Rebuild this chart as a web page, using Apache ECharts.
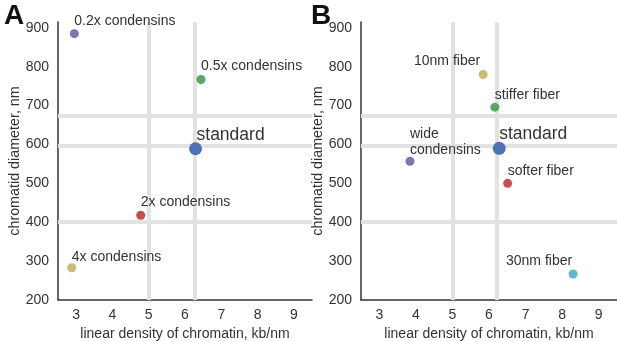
<!DOCTYPE html>
<html>
<head>
<meta charset="utf-8">
<script src="https://cdn.jsdelivr.net/npm/echarts@6/dist/echarts.min.js"></script>
<style>
  html, body { margin: 0; padding: 0; background: #fff; }
  #chart { width: 617px; height: 342px; }
</style>
</head>
<body>
<div id="chart"></div>
<script>
// panel A: condensin variants
var namesA = ["0.2x condensins", "0.5x condensins", "standard", "2x condensins", "4x condensins"];
var xA = [2.95, 6.44, 6.29, 4.78, 2.88];
var yA = [885, 767, 589, 418, 283];
var vlinesA = [5.0, 6.28];

// panel B: fiber variants
var namesB = ["10nm fiber", "stiffer fiber", "standard", "wide\ncondensins", "softer fiber", "30nm fiber"];
var xB = [5.84, 6.16, 6.28, 3.84, 6.51, 8.3];
var yB = [780, 696, 590, 557, 500, 267];
var vlinesB = [5.0, 6.2];

var hlines = [675, 597, 400];
var xTicks = [3, 4, 5, 6, 7, 8, 9];
var yTicks = [200, 300, 400, 500, 600, 700, 800, 900];

var colorsA = ["#8172b2", "#55a868", "#4c72b0", "#c44e52", "#ccb974"];
var colorsB = ["#ccb974", "#55a868", "#4c72b0", "#8172b2", "#c44e52", "#64b5cd"];

// label placement: [align, dx, dy]
var labA = [["left", 0, -13], ["left", 0, -13], ["left", 1, -14], ["left", 0, -13], ["left", 0, -11]];
var labB = [["right", -3, -13], ["left", 0, -12], ["left", 0, -14], ["left", 0, -19], ["left", 0, -12], ["right", -1, -13]];

var font = "'Liberation Sans', Arial, sans-serif";
var textColor = "#333";

function points(names, xs, ys, colors, labs) {
  return names.map(function (n, i) {
    var big = n === "standard";
    return {
      name: n,
      value: [xs[i], ys[i]],
      symbolSize: big ? 13 : 9,
      itemStyle: { color: colors[i], opacity: 1 },
      label: {
        show: true,
        formatter: n,
        position: "inside",
        align: labs[i][0],
        verticalAlign: "middle",
        offset: [labs[i][1], labs[i][2]],
        fontSize: big ? 17.5 : 14,
        lineHeight: 16,
        color: textColor,
        fontFamily: font
      }
    };
  });
}

function refLines(vl) {
  var d = vl.map(function (v) { return { xAxis: v }; });
  hlines.forEach(function (v) { d.push({ yAxis: v }); });
  return {
    silent: true,
    symbol: "none",
    label: { show: false },
    lineStyle: { color: "#e2e2e2", width: 4, type: "solid" },
    data: d
  };
}

function xAxisOpt(idx) {
  return {
    type: "value",
    gridIndex: idx,
    min: 2.5,
    max: 9.5,
    interval: 0.5,
    name: "linear density of chromatin, kb/nm",
    nameLocation: "middle",
    nameGap: 25,
    nameTextStyle: { fontSize: 14, color: textColor, fontFamily: font },
    axisLine: { show: true, lineStyle: { color: "#333", width: 1.5 } },
    axisTick: { show: false },
    splitLine: { show: false },
    axisLabel: {
      margin: 8, fontSize: 14, color: textColor, fontFamily: font,
      formatter: function (v) { return xTicks.indexOf(v) >= 0 ? v : ""; }
    }
  };
}

function yAxisOpt(idx, gap) {
  return {
    type: "value",
    gridIndex: idx,
    min: 200,
    max: 915,
    interval: 100,
    name: "chromatid diameter, nm",
    nameLocation: "middle",
    nameGap: gap,
    nameTextStyle: { fontSize: 14.3, color: textColor, fontFamily: font },
    axisLine: { show: true, lineStyle: { color: "#333", width: 1.5 } },
    axisTick: { show: false },
    splitLine: { show: false },
    axisLabel: {
      margin: 9, fontSize: 14, color: textColor, fontFamily: font,
      showMaxLabel: false,
      formatter: function (v) { return yTicks.indexOf(v) >= 0 ? v : ""; }
    }
  };
}

var chart = echarts.init(document.getElementById("chart"), null, { renderer: "canvas" });
chart.setOption({
  animation: false,
  backgroundColor: "#fff",
  title: [
    { text: "A", left: -1, top: -3, textStyle: { fontSize: 28, fontWeight: "bold", color: "#111", fontFamily: font } },
    { text: "B", left: 306, top: -3, textStyle: { fontSize: 28, fontWeight: "bold", color: "#111", fontFamily: font } }
  ],
  grid: [
    { left: 58, top: 22, width: 254, height: 278, outerBoundsMode: "none" },
    { left: 361, top: 22, width: 256, height: 278, outerBoundsMode: "none" }
  ],
  xAxis: [xAxisOpt(0), xAxisOpt(1)],
  yAxis: [yAxisOpt(0, 36), yAxisOpt(1, 36)],
  series: [
    { type: "scatter", xAxisIndex: 0, yAxisIndex: 0, data: [], z: 1, markLine: refLines(vlinesA) },
    { type: "scatter", xAxisIndex: 1, yAxisIndex: 1, data: [], z: 1, markLine: refLines(vlinesB) },
    { type: "scatter", xAxisIndex: 0, yAxisIndex: 0, z: 5, data: points(namesA, xA, yA, colorsA, labA) },
    { type: "scatter", xAxisIndex: 1, yAxisIndex: 1, z: 5, data: points(namesB, xB, yB, colorsB, labB) }
  ]
});
</script>
</body>
</html>
